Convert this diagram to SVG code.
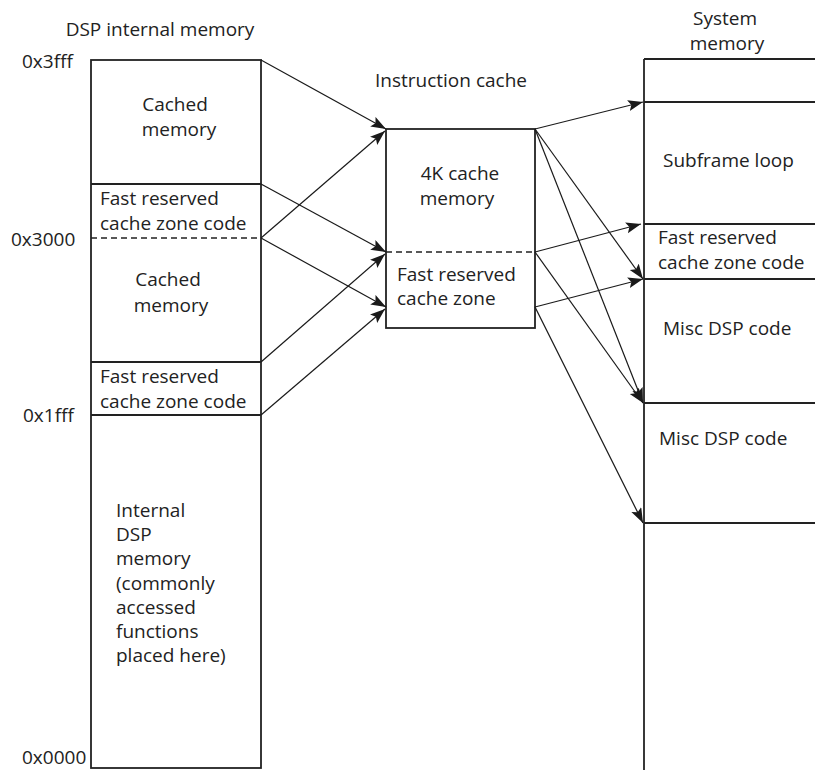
<svg xmlns="http://www.w3.org/2000/svg" width="815" height="770" viewBox="0 0 815 770">
<defs>
<marker id="ah" markerUnits="userSpaceOnUse" markerWidth="16" markerHeight="12" refX="15" refY="5.5" orient="auto">
<path d="M0,0 L15,5.5 L0,11 L3,5.5 z" fill="#1a1a1a"/>
</marker>
</defs>
<style>
text{font-family:"Open Sans","DejaVu Sans",sans-serif;font-size:19px;fill:#222}
.box{fill:none;stroke:#222;stroke-width:1.8}
.ln{stroke:#222;stroke-width:1.8;fill:none}
.dash{stroke:#222;stroke-width:1.6;stroke-dasharray:6,4;fill:none}
.arr{stroke:#1a1a1a;stroke-width:1.2;fill:none;marker-end:url(#ah)}
.c{text-anchor:middle}
</style>
<rect width="815" height="770" fill="#fff"/>

<g id="labels">
<text x="160" y="36" class="c">DSP internal memory</text>
<text x="22" y="68">0x3fff</text>
<text x="11" y="246">0x3000</text>
<text x="23" y="422">0x1fff</text>
<text x="22" y="764">0x0000</text>
<text x="451" y="87" class="c">Instruction cache</text>
<text x="725" y="25" class="c">System</text>
<text x="727" y="50" class="c">memory</text>
</g>

<g id="dsp-memory">
<rect class="box" x="91" y="60" width="170" height="708"/>
<line class="ln" x1="91" y1="184" x2="261" y2="184"/>
<line class="dash" x1="91" y1="238" x2="261" y2="238"/>
<line class="ln" x1="91" y1="362" x2="261" y2="362"/>
<line class="ln" x1="91" y1="415" x2="261" y2="415"/>
</g>
<g id="cached-memory-1">
<text x="175" y="111" class="c">Cached</text>
<text x="179" y="136" class="c">memory</text>
</g>
<g id="fast-reserved-1">
<text x="100" y="205">Fast reserved</text>
<text x="100" y="230">cache zone code</text>
</g>
<g id="cached-memory-2">
<text x="168" y="286" class="c">Cached</text>
<text x="171" y="312" class="c">memory</text>
</g>
<g id="fast-reserved-2">
<text x="100" y="383">Fast reserved</text>
<text x="100" y="408">cache zone code</text>
</g>
<g id="internal-dsp">
<text x="116" y="517">Internal</text>
<text x="116" y="541">DSP</text>
<text x="116" y="565">memory</text>
<text x="116" y="590">(commonly</text>
<text x="116" y="614">accessed</text>
<text x="116" y="638">functions</text>
<text x="116" y="662">placed here)</text>
</g>

<g id="instruction-cache">
<rect class="box" x="386" y="129" width="149" height="199"/>
<line class="dash" x1="386" y1="252" x2="535" y2="252"/>
<text x="460" y="180" class="c">4K cache</text>
<text x="457" y="205" class="c">memory</text>
<text x="397" y="281">Fast reserved</text>
<text x="397" y="305">cache zone</text>
</g>

<g id="system-memory">
<line class="ln" x1="644" y1="59" x2="644" y2="770"/>
<line class="ln" x1="644" y1="59" x2="815" y2="59"/>
<line class="ln" x1="644" y1="102" x2="815" y2="102"/>
<line class="ln" x1="644" y1="224" x2="815" y2="224"/>
<line class="ln" x1="644" y1="279" x2="815" y2="279"/>
<line class="ln" x1="644" y1="403" x2="815" y2="403"/>
<line class="ln" x1="644" y1="523" x2="815" y2="523"/>
</g>
<g id="subframe-loop"><text x="663" y="167">Subframe loop</text></g>
<g id="fast-reserved-sys">
<text x="658" y="244">Fast reserved</text>
<text x="658" y="269">cache zone code</text>
</g>
<g id="misc-1"><text x="663" y="335">Misc DSP code</text></g>
<g id="misc-2"><text x="659" y="445">Misc DSP code</text></g>

<g id="connectors">
<line class="arr" x1="261" y1="60" x2="386" y2="129"/>
<line class="arr" x1="261" y1="238" x2="385" y2="131"/>
<line class="arr" x1="261" y1="184" x2="386" y2="252"/>
<line class="arr" x1="261" y1="362" x2="385" y2="254"/>
<line class="arr" x1="261" y1="238" x2="386" y2="307"/>
<line class="arr" x1="261" y1="415" x2="385" y2="309"/>
<line class="arr" x1="535" y1="129" x2="643" y2="102"/>
<line class="arr" x1="535" y1="129" x2="643" y2="279"/>
<line class="arr" x1="535" y1="129" x2="643" y2="403"/>
<line class="arr" x1="535" y1="252" x2="641" y2="224"/>
<line class="arr" x1="535" y1="252" x2="643" y2="403"/>
<line class="arr" x1="535" y1="307" x2="643" y2="279"/>
<line class="arr" x1="535" y1="307" x2="643" y2="523"/>
</g>
</svg>
